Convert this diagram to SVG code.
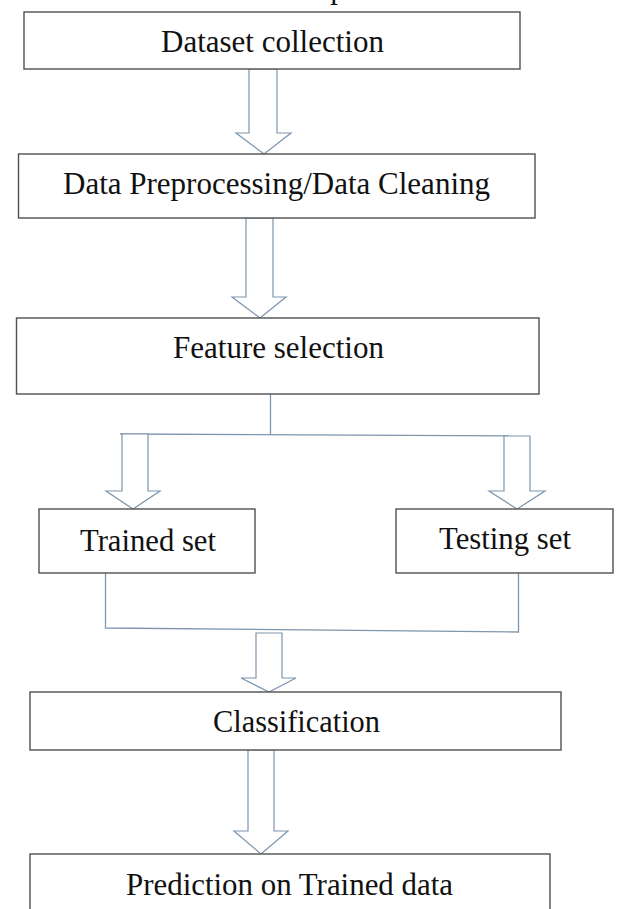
<svg xmlns="http://www.w3.org/2000/svg" width="617" height="909" viewBox="0 0 617 909">
<style>
.box{fill:#fff;stroke:#505050;stroke-width:1.4}
.lbl{font-family:"Liberation Serif","Times New Roman",serif;font-size:31px;fill:#111;text-anchor:middle}
.arr{fill:#fff;stroke:#7d95ad;stroke-width:1.2;stroke-linejoin:miter}
.ln{fill:none;stroke:#7d95ad;stroke-width:1.3}
</style>
<rect width="617" height="909" fill="#fff"/>
<text class="lbl" x="338" y="-2">p</text>
<g id="connectors">
<polygon class="arr" points="249,69 277,69 277,133 291,133 264,154 236,133 249,133"/>
<polygon class="arr" points="246,218 273,218 273,297 286,297 260,318 232,297 246,297"/>
<polyline class="ln" points="270.5,394 270.5,434"/>
<polyline class="ln" points="120,434 530,436"/>
<polygon class="arr" points="122,434 148,434 148,491 160,491 133,509 106,491 122,491"/>
<polygon class="arr" points="504,436 530,436 530,491 545,491 517,509 489,491 504,491"/>
<polyline class="ln" points="105.5,573 105.5,628 518.5,632 518.5,573"/>
<polygon class="arr" points="256,633 282,633 282,678 296,678 269,692 241,678 256,678"/>
<polygon class="arr" points="248,750 274,750 274,831 288,831 261,854 234,831 248,831"/>
</g>
<g id="dataset">
<rect class="box" x="24" y="12" width="496" height="57"/>
<text class="lbl" x="272.5" y="52" textLength="223" lengthAdjust="spacingAndGlyphs">Dataset collection</text>
</g>
<g id="preprocessing">
<rect class="box" x="18.5" y="154" width="516.5" height="64"/>
<text class="lbl" x="276.5" y="194" textLength="427" lengthAdjust="spacingAndGlyphs">Data Preprocessing/Data Cleaning</text>
</g>
<g id="feature">
<rect class="box" x="16.5" y="318" width="522.5" height="76"/>
<text class="lbl" x="278.5" y="358" textLength="211" lengthAdjust="spacingAndGlyphs">Feature selection</text>
</g>
<g id="trained">
<rect class="box" x="39" y="509" width="216" height="64"/>
<text class="lbl" x="148" y="551" textLength="136" lengthAdjust="spacingAndGlyphs">Trained set</text>
</g>
<g id="testing">
<rect class="box" x="396" y="509" width="217" height="64"/>
<text class="lbl" x="505" y="549" textLength="132" lengthAdjust="spacingAndGlyphs">Testing set</text>
</g>
<g id="classification">
<rect class="box" x="30" y="692" width="531" height="58"/>
<text class="lbl" x="296.5" y="732" textLength="167" lengthAdjust="spacingAndGlyphs">Classification</text>
</g>
<g id="prediction">
<rect class="box" x="30" y="854" width="520" height="70"/>
<text class="lbl" x="289.5" y="895" textLength="327" lengthAdjust="spacingAndGlyphs">Prediction on Trained data</text>
</g>
</svg>
